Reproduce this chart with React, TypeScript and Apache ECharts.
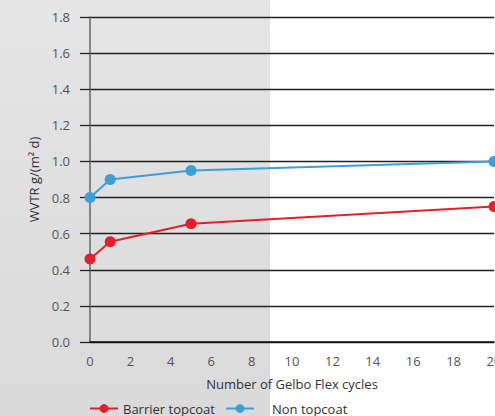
import React, { useEffect, useRef } from "react";
import * as echarts from "echarts";

const cycles = [0, 1, 5, 20];
const barrierTopcoat = [0.46, 0.555, 0.655, 0.75];
const nonTopcoat = [0.8, 0.9, 0.95, 1.0];
const xTicks = [0, 2, 4, 6, 8, 10, 12, 14, 16, 18, 20];
const yTicks = [0, 0.2, 0.4, 0.6, 0.8, 1.0, 1.2, 1.4, 1.6, 1.8];

const RED = "#e3202a";
const BLUE = "#3d9fd9";
const FONT = "'Open Sans', 'Noto Sans', sans-serif";

export default function App() {
  const ref = useRef<HTMLDivElement>(null);
  useEffect(() => {
    if (!ref.current) return;
    const chart = echarts.init(ref.current, undefined, { renderer: "svg" });
    const pair = (xs: number[], ys: number[]) => xs.map((x, i) => [x, ys[i]]);
    chart.setOption({
      animation: false,
      backgroundColor: "#ffffff",
      textStyle: { fontFamily: FONT },
      graphic: [
        {
          type: "rect",
          left: 0,
          top: 0,
          z: -10,
          silent: true,
          shape: { x: 0, y: 0, width: 270, height: 416 },
          style: {
            fill: new echarts.graphic.LinearGradient(0, 0, 0, 1, [
              { offset: 0, color: "#e5e5e5" },
              { offset: 1, color: "#dadada" },
            ]),
          },
        },
      ],
      grid: {
        left: 90,
        right: 1,
        top: 17,
        bottom: 74,
        containLabel: false,
        outerBoundsMode: "none",
      },
      legend: [
        {
          data: ["Barrier topcoat"],
          left: 84,
          top: 397,
          itemWidth: 28,
          itemHeight: 11,
          textStyle: { fontFamily: FONT, fontSize: 13, color: "#333" },
        },
        {
          data: ["Non topcoat"],
          left: 220,
          top: 397,
          itemWidth: 28,
          itemHeight: 11,
          textStyle: { fontFamily: FONT, fontSize: 13, color: "#333", padding: [0, 0, 0, 13] },
        },
      ],
      xAxis: {
        type: "value",
        min: 0,
        max: 20,
        interval: 2,
        name: "Number of Gelbo Flex cycles",
        nameLocation: "middle",
        nameGap: 35,
        nameTextStyle: { fontFamily: FONT, fontSize: 13, color: "#333" },
        axisLine: { show: true, lineStyle: { color: "#111", width: 1.5 } },
        axisTick: { show: false },
        splitLine: { show: false },
        axisLabel: {
          fontFamily: FONT,
          fontSize: 13,
          color: "#555",
          margin: 12,
          formatter: (v: number) => (xTicks.includes(v) ? String(v) : ""),
        },
      },
      yAxis: {
        type: "value",
        min: 0,
        max: 1.8,
        interval: 0.2,
        name: "WVTR g/(m\u00b2 d)",
        nameLocation: "middle",
        nameGap: 49,
        nameRotate: 90,
        nameTextStyle: { fontFamily: FONT, fontSize: 13, color: "#333" },
        axisLine: { show: true, lineStyle: { color: "#666", width: 1.5 } },
        axisTick: { show: true, length: 10, lineStyle: { color: "#222", width: 1.3 } },
        splitLine: { show: true, lineStyle: { color: "#222", width: 1.3 } },
        axisLabel: {
          fontFamily: FONT,
          fontSize: 13,
          color: "#555",
          margin: 20,
          formatter: (v: number) => {
            const t = yTicks.find((y) => Math.abs(y - v) < 1e-6);
            return t === undefined ? "" : t.toFixed(1);
          },
        },
      },
      series: [
        {
          name: "Barrier topcoat",
          type: "line",
          data: pair(cycles, barrierTopcoat),
          symbol: "circle",
          symbolSize: 11,
          clip: false,
          itemStyle: { color: RED },
          lineStyle: { color: RED, width: 2 },
          z: 5,
        },
        {
          name: "Non topcoat",
          type: "line",
          data: pair(cycles, nonTopcoat),
          symbol: "circle",
          symbolSize: 11,
          clip: false,
          itemStyle: { color: BLUE },
          lineStyle: { color: BLUE, width: 2 },
          z: 5,
        },
      ],
    });
    return () => chart.dispose();
  }, []);
  return (
    <div
      ref={ref}
      style={{ position: "fixed", left: 0, top: 0, width: 495, height: 416 }}
    />
  );
}
